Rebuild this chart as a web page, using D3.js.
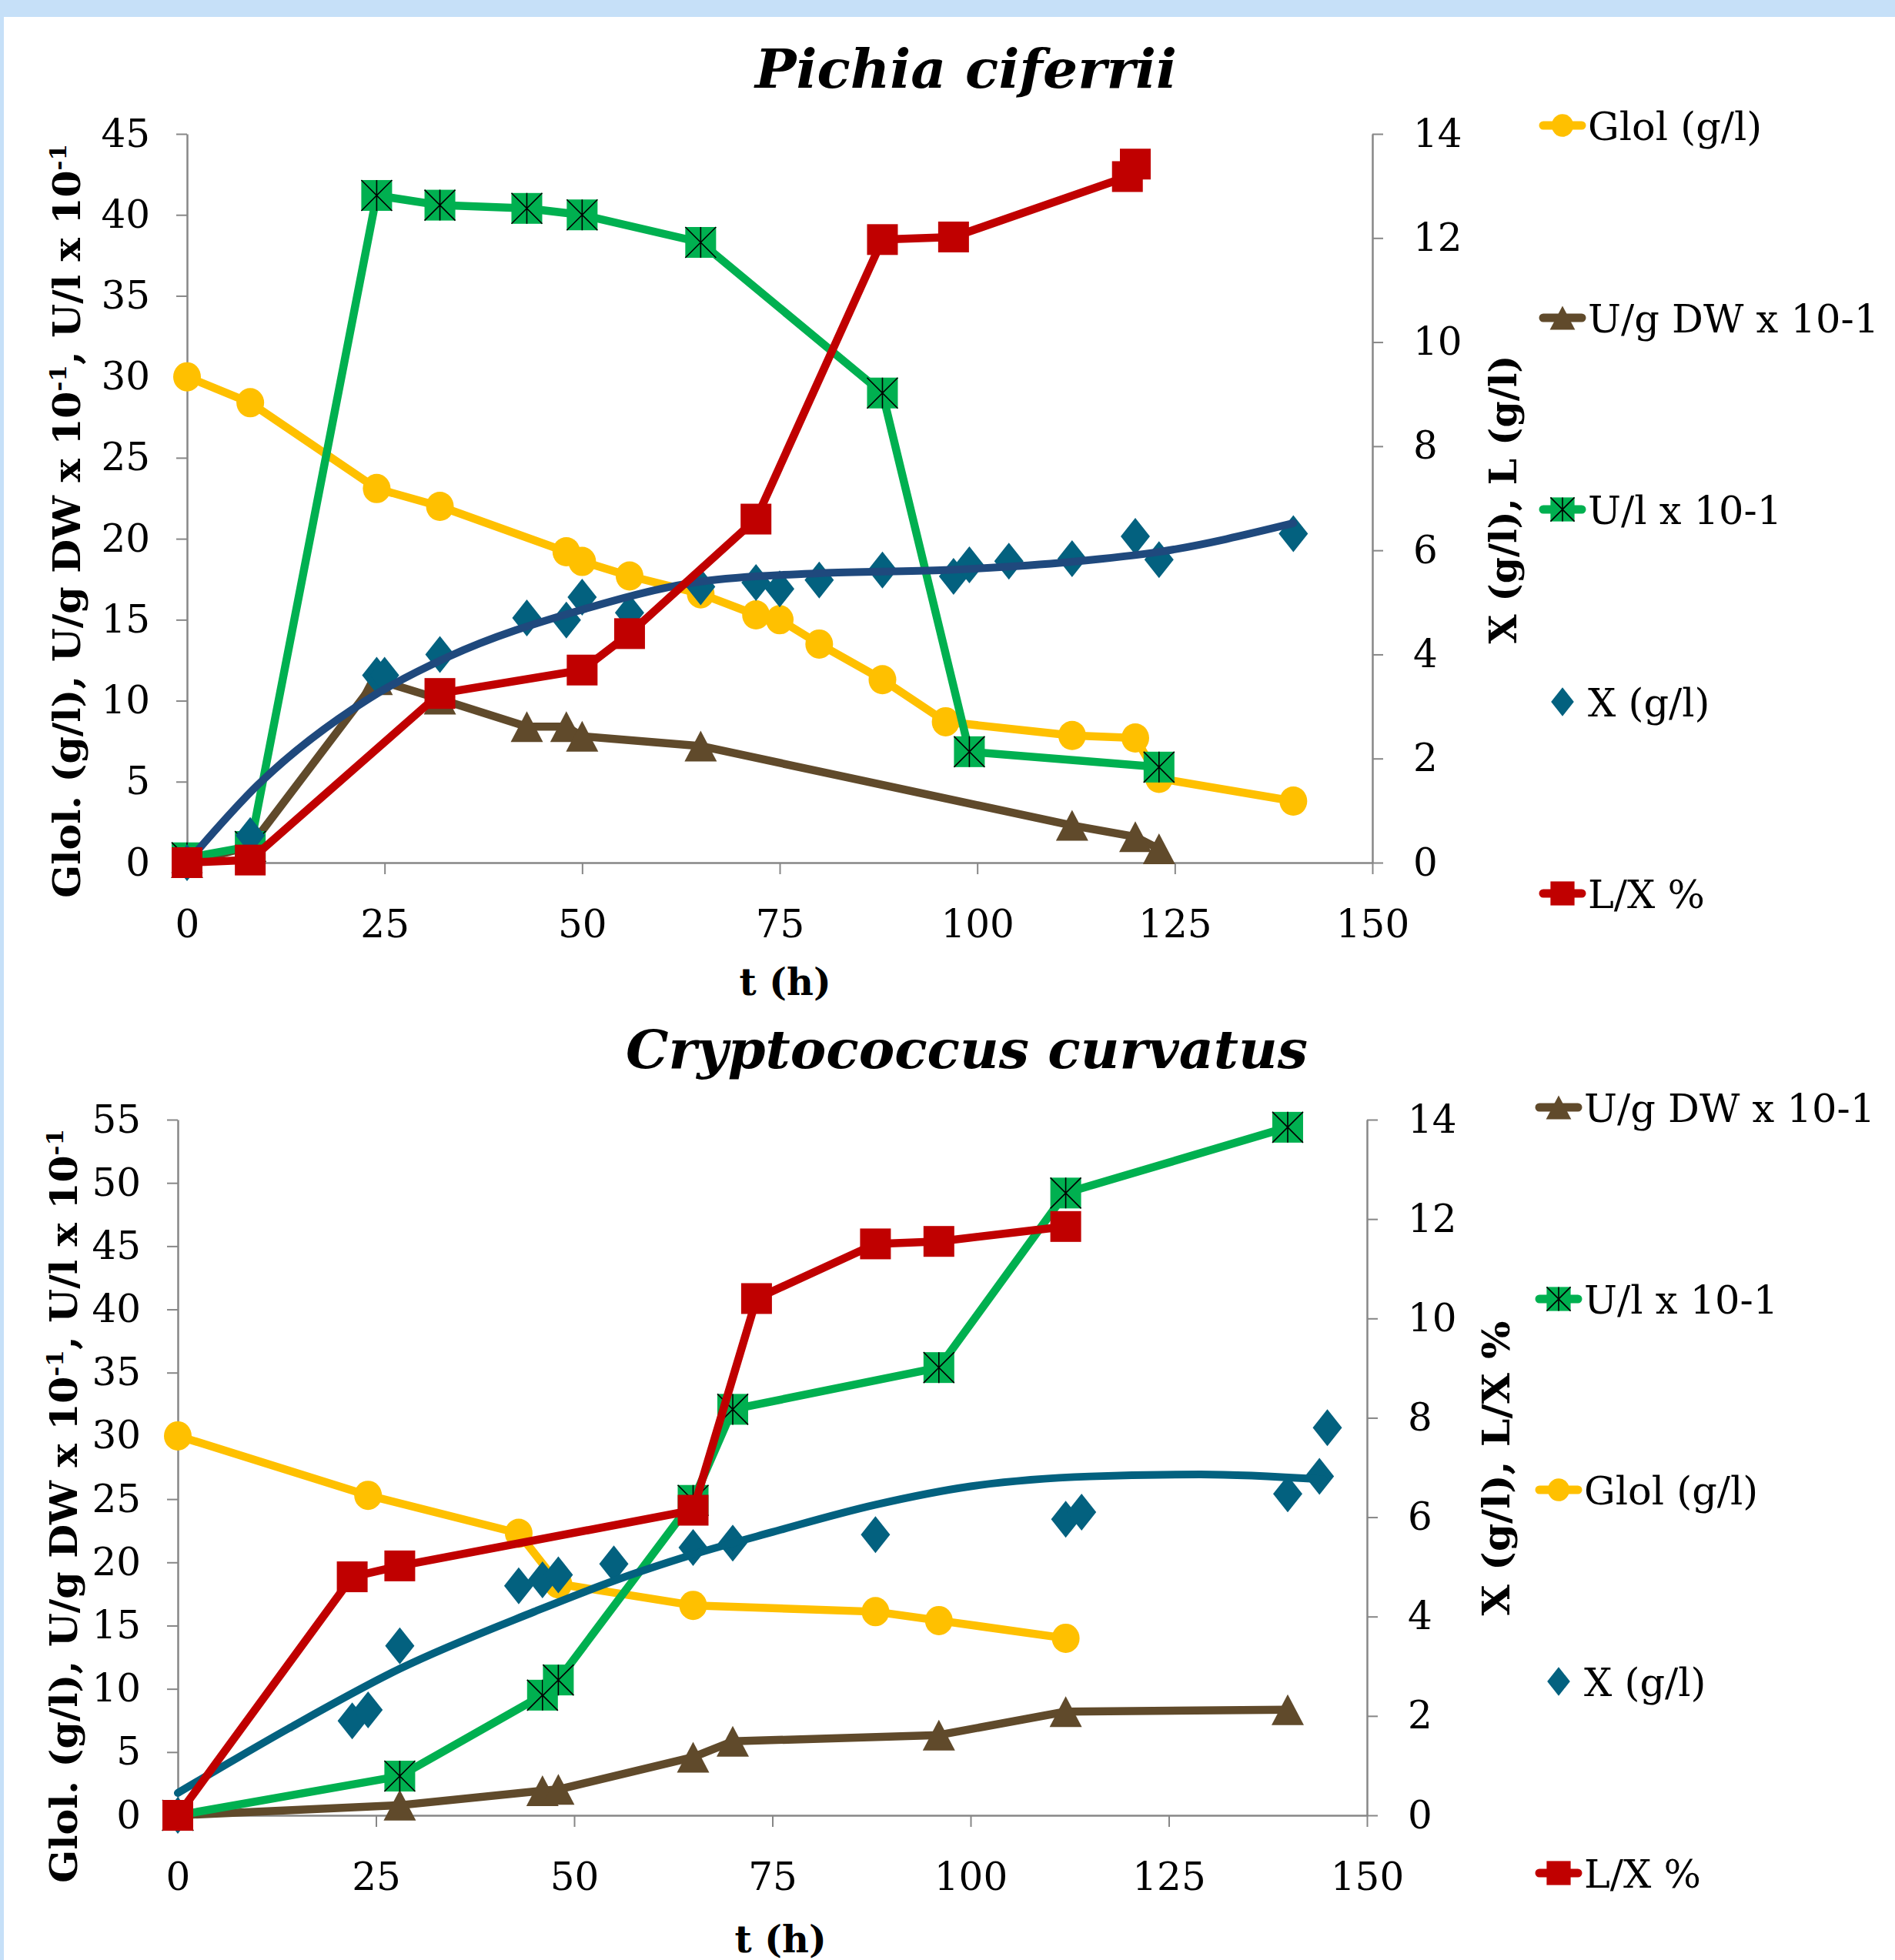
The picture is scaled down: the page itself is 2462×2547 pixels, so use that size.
<!DOCTYPE html>
<html>
<head>
<meta charset="utf-8">
<script src="https://cdn.jsdelivr.net/npm/d3@7"></script>
<style>
  html, body { margin: 0; padding: 0; background: #fff; }
  svg { display: block; }
</style>
</head>
<body>
<script>
// Values: [t (h), value]
const xTicks = [0, 25, 50, 75, 100, 125, 150];
const pichiaLeftTicks = [0, 5, 10, 15, 20, 25, 30, 35, 40, 45];
const cryptoLeftTicks = [0, 5, 10, 15, 20, 25, 30, 35, 40, 45, 50, 55];
const rightTicks = [0, 2, 4, 6, 8, 10, 12, 14];

const pichiaGlol = [[0, 30], [8, 28.4], [24, 23.1], [32, 22.0], [48, 19.2], [50, 18.6], [56, 17.7],
  [65, 16.6], [72, 15.3], [75, 15.0], [80, 13.5], [88, 11.3], [96, 8.7], [112, 7.85], [120, 7.7],
  [123, 5.2], [140, 3.8]];
const pichiaUgDW = [[0, 0], [8, 1.0], [24, 11.3], [32, 10.1], [43, 8.4], [48, 8.4], [50, 7.8],
  [65, 7.2], [112, 2.3], [120, 1.6], [123, 0.85]];
const pichiaUl = [[0, 0.3], [8, 1.0], [24, 41.2], [32, 40.6], [43, 40.4], [50, 40.0], [65, 38.3],
  [88, 29.0], [99, 6.85], [123, 5.9]];
const pichiaX = [[0, 0], [8, 0.52], [24, 3.6], [25, 3.6], [32, 4.0], [43, 4.7], [48, 4.66], [50, 5.1],
  [56, 4.8], [65, 5.3], [72, 5.38], [75, 5.26], [80, 5.43], [88, 5.62], [97, 5.5], [99, 5.72],
  [104, 5.79], [112, 5.84], [120, 6.27], [123, 5.82], [140, 6.32]];
const pichiaLX = [[0, 0], [8, 0.05], [32, 3.25], [50, 3.7], [56, 4.4], [72, 6.6], [88, 11.97],
  [97, 12.02], [119, 13.18], [120, 13.42]];
const pichiaXTrend = [[0, 0], [9, 1.5], [23, 3.15], [33, 3.95], [50, 4.86], [65, 5.4], [80, 5.56],
  [96, 5.62], [112, 5.78], [123, 5.97], [140, 6.52]];

const cryptoGlol = [[0, 30], [24, 25.3], [43, 22.3], [48, 18.3], [65, 16.6], [88, 16.1], [96, 15.4], [112, 14.0]];
const cryptoUgDW = [[0, 0], [28, 0.8], [46, 1.95], [48, 2.05], [65, 4.6], [70, 5.85], [96, 6.35], [112, 8.2], [140, 8.35]];
const cryptoUl = [[0, 0], [28, 3.1], [46, 9.5], [48, 10.7], [65, 24.9], [70, 32.1], [96, 35.4], [112, 49.2], [140, 54.4]];
const cryptoX = [[0, 0], [22, 1.9], [24, 2.12], [28, 3.41], [43, 4.62], [46, 4.74], [48, 4.84], [55, 5.06],
  [65, 5.39], [70, 5.48], [88, 5.65], [112, 5.96], [114, 6.1], [140, 6.47], [144, 6.82], [145, 7.8]];
const cryptoLX = [[0, 0], [22, 4.8], [28, 5.02], [65, 6.14], [73, 10.4], [88, 11.5], [96, 11.55], [112, 11.85]];
const cryptoXTrend = [[0, 0.45], [14, 1.75], [28, 2.95], [45, 4.1], [55, 4.72], [65, 5.25], [75, 5.7],
  [88, 6.25], [100, 6.62], [115, 6.82], [129, 6.86], [144.5, 6.76]];

const pichiaLegend = ['Glol (g/l)', 'U/g DW x 10-1', 'U/l x 10-1', 'X (g/l)', 'L/X %'];
const cryptoLegend = ['U/g DW x 10-1', 'U/l x 10-1', 'Glol (g/l)', 'X (g/l)', 'L/X %'];

const C = {
  glol: '#FFC000', ugdw: '#604A2B', ul: '#00B050', x: '#03617F', lx: '#C00000',
  axis: '#878787'
};
const styleOf = {
  'Glol (g/l)': { color: C.glol, shape: 'circle' },
  'U/g DW x 10-1': { color: C.ugdw, shape: 'triangle' },
  'U/l x 10-1': { color: C.ul, shape: 'squareX' },
  'X (g/l)': { color: C.x, shape: 'diamond', noLine: true },
  'L/X %': { color: C.lx, shape: 'square' }
};

const W = 2462, H = 2547;
const svg = d3.select('body').append('svg').attr('width', W).attr('height', H);
svg.append('rect').attr('width', W).attr('height', H).attr('fill', '#fff');
svg.append('rect').attr('width', W).attr('height', 22).attr('fill', '#C6E0F8');
svg.append('rect').attr('width', 5).attr('height', H).attr('fill', '#C6E0F8');

function marker(sel, shape, color, s) {
  if (shape === 'circle') {
    sel.append('ellipse').attr('rx', 18 * s).attr('ry', 19 * s).attr('fill', color);
  } else if (shape === 'triangle') {
    sel.append('path').attr('d', `M0,${-20 * s}L${21 * s},${20 * s}L${-21 * s},${20 * s}Z`).attr('fill', color);
  } else if (shape === 'square') {
    sel.append('rect').attr('x', -20 * s).attr('y', -20 * s).attr('width', 40 * s).attr('height', 40 * s).attr('fill', color);
  } else if (shape === 'squareX') {
    const h = 20 * s;
    sel.append('rect').attr('x', -h).attr('y', -h).attr('width', 2 * h).attr('height', 2 * h).attr('fill', color);
    sel.append('path').attr('d', `M${-h},${-h}L${h},${h}M${h},${-h}L${-h},${h}M0,${-h}L0,${h}`)
      .attr('stroke', '#000').attr('stroke-width', 1.6).attr('fill', 'none');
  } else if (shape === 'diamond') {
    sel.append('path').attr('d', `M0,${-24 * s}L${19 * s},0L0,${24 * s}L${-19 * s},0Z`).attr('fill', color);
  }
}

function panel(o) {
  const g = svg.append('g');
  const x = d3.scaleLinear().domain([0, 150]).range([o.left, o.right]);
  const yL = d3.scaleLinear().domain([0, o.leftMax]).range([o.bottom, o.top]);
  const yR = d3.scaleLinear().domain([0, 14]).range([o.bottom, o.top]);

  // axes
  const ax = [
    g.append('g').attr('transform', `translate(0,${o.bottom})`)
      .call(d3.axisBottom(x).tickValues(xTicks).tickSize(15).tickSizeOuter(0).tickPadding(46)),
    g.append('g').attr('transform', `translate(${o.left},0)`)
      .call(d3.axisLeft(yL).tickValues(o.leftTicks).tickSize(14).tickSizeOuter(0).tickPadding(34)),
    g.append('g').attr('transform', `translate(${o.right},0)`)
      .call(d3.axisRight(yR).tickValues(rightTicks).tickSize(14).tickSizeOuter(0).tickPadding(39))
  ];
  ax.forEach((a) => {
    a.attr('font-family', null).attr('font-size', null);
    a.select('.domain').attr('stroke', C.axis).attr('stroke-width', 2.5);
    a.selectAll('.tick line').attr('stroke', C.axis).attr('stroke-width', 2);
    a.selectAll('.tick text').attr('fill', '#000')
      .style('font-family', '"DejaVu Serif", serif').style('font-size', '50px');
  });

  // series
  const lineL = d3.line().x((d) => x(d[0])).y((d) => yL(d[1]));
  const lineR = d3.line().x((d) => x(d[0])).y((d) => yR(d[1]));

  function series(data, name, right) {
    const st = styleOf[name];
    const yy = right ? yR : yL;
    if (!st.noLine) {
      g.append('path').datum(data).attr('d', right ? lineR : lineL)
        .attr('fill', 'none').attr('stroke', st.color).attr('stroke-width', 10.5)
        .attr('stroke-linejoin', 'round').attr('stroke-linecap', 'round');
    }
    g.append('g').selectAll('g').data(data).join('g')
      .attr('transform', (d) => `translate(${x(d[0])},${yy(d[1])})`)
      .each(function () { marker(d3.select(this), st.shape, st.color, 1); });
  }

  series(o.glol, 'Glol (g/l)', false);
  series(o.ugdw, 'U/g DW x 10-1', false);
  series(o.ul, 'U/l x 10-1', false);
  series(o.xs, 'X (g/l)', true);
  g.append('path').datum(o.trend)
    .attr('d', d3.line().x((d) => x(d[0])).y((d) => yR(d[1])).curve(d3.curveMonotoneX))
    .attr('fill', 'none').attr('stroke', o.trendColor).attr('stroke-width', 10).attr('stroke-linecap', 'round');
  series(o.lx, 'L/X %', true);

  // titles
  g.append('text').attr('x', o.titleX).attr('y', o.titleY)
    .attr('textLength', o.titleLen).attr('lengthAdjust', 'spacingAndGlyphs')
    .style('font-family', '"DejaVu Serif", serif').style('font-weight', 'bold').style('font-style', 'italic')
    .style('font-size', '70px').text(o.title);

  g.append('text').attr('x', o.xTitleX).attr('y', o.xTitleY).attr('text-anchor', 'middle')
    .style('font-family', '"DejaVu Serif", serif').style('font-weight', 'bold').style('font-size', '48px')
    .text('t (h)');

  const yt = g.append('text')
    .attr('transform', `translate(${o.yTitleX},${o.yTitleY}) rotate(-90)`)
    .attr('text-anchor', 'middle').attr('textLength', 980).attr('lengthAdjust', 'spacingAndGlyphs')
    .style('font-family', '"DejaVu Serif", serif').style('font-weight', 'bold').style('font-size', '49px');
  yt.append('tspan').text('Glol. (g/l), U/g DW x 10');
  yt.append('tspan').attr('dy', -18).style('font-size', '30px').text('-1');
  yt.append('tspan').attr('dy', 18).text(', U/l x 10');
  yt.append('tspan').attr('dy', -18).style('font-size', '30px').text('-1');

  g.append('text')
    .attr('transform', `translate(${o.rTitleX},${o.rTitleY}) rotate(-90)`)
    .attr('text-anchor', 'middle').attr('textLength', o.rTitleLen).attr('lengthAdjust', 'spacingAndGlyphs')
    .style('font-family', '"DejaVu Serif", serif').style('font-weight', 'bold').style('font-size', '49px')
    .text(o.rTitle);

  // legend
  o.legend.forEach((name, i) => {
    const st = styleOf[name];
    const ly = o.legendY[i];
    const lg = g.append('g').attr('transform', `translate(${o.legendX},${ly})`);
    if (!st.noLine) {
      lg.append('line').attr('x1', -25).attr('x2', 25).attr('stroke', st.color)
        .attr('stroke-width', 11).attr('stroke-linecap', 'round');
    }
    marker(lg, st.shape, st.color, 0.78);
    lg.append('text').attr('x', 33).attr('y', 19)
      .style('font-family', '"DejaVu Serif", serif').style('font-size', '51px').text(name);
  });
}

panel({
  left: 243, right: 1783, top: 174, bottom: 1121, leftMax: 45, leftTicks: pichiaLeftTicks,
  glol: pichiaGlol, ugdw: pichiaUgDW, ul: pichiaUl, xs: pichiaX, lx: pichiaLX,
  trend: pichiaXTrend, trendColor: '#1F497D',
  title: 'Pichia ciferrii', titleX: 981, titleY: 114, titleLen: 548,
  xTitleX: 1020, xTitleY: 1293,
  yTitleX: 104, yTitleY: 677,
  rTitle: 'X (g/l), L (g/l)', rTitleX: 1970, rTitleY: 649, rTitleLen: 375,
  legend: pichiaLegend, legendX: 2030, legendY: [163, 413, 662, 912, 1161]
});

panel({
  left: 231, right: 1776, top: 1455, bottom: 2359, leftMax: 55, leftTicks: cryptoLeftTicks,
  glol: cryptoGlol, ugdw: cryptoUgDW, ul: cryptoUl, xs: cryptoX, lx: cryptoLX,
  trend: cryptoXTrend, trendColor: '#03617F',
  title: 'Cryptococcus curvatus', titleX: 813, titleY: 1388, titleLen: 886,
  xTitleX: 1014, xTitleY: 2537,
  yTitleX: 100, yTitleY: 1957,
  rTitle: 'X (g/l), L/X %', rTitleX: 1961, rTitleY: 1908, rTitleLen: 383,
  legend: cryptoLegend, legendX: 2025, legendY: [1439, 1688, 1936, 2185, 2434]
});
</script>
</body>
</html>
